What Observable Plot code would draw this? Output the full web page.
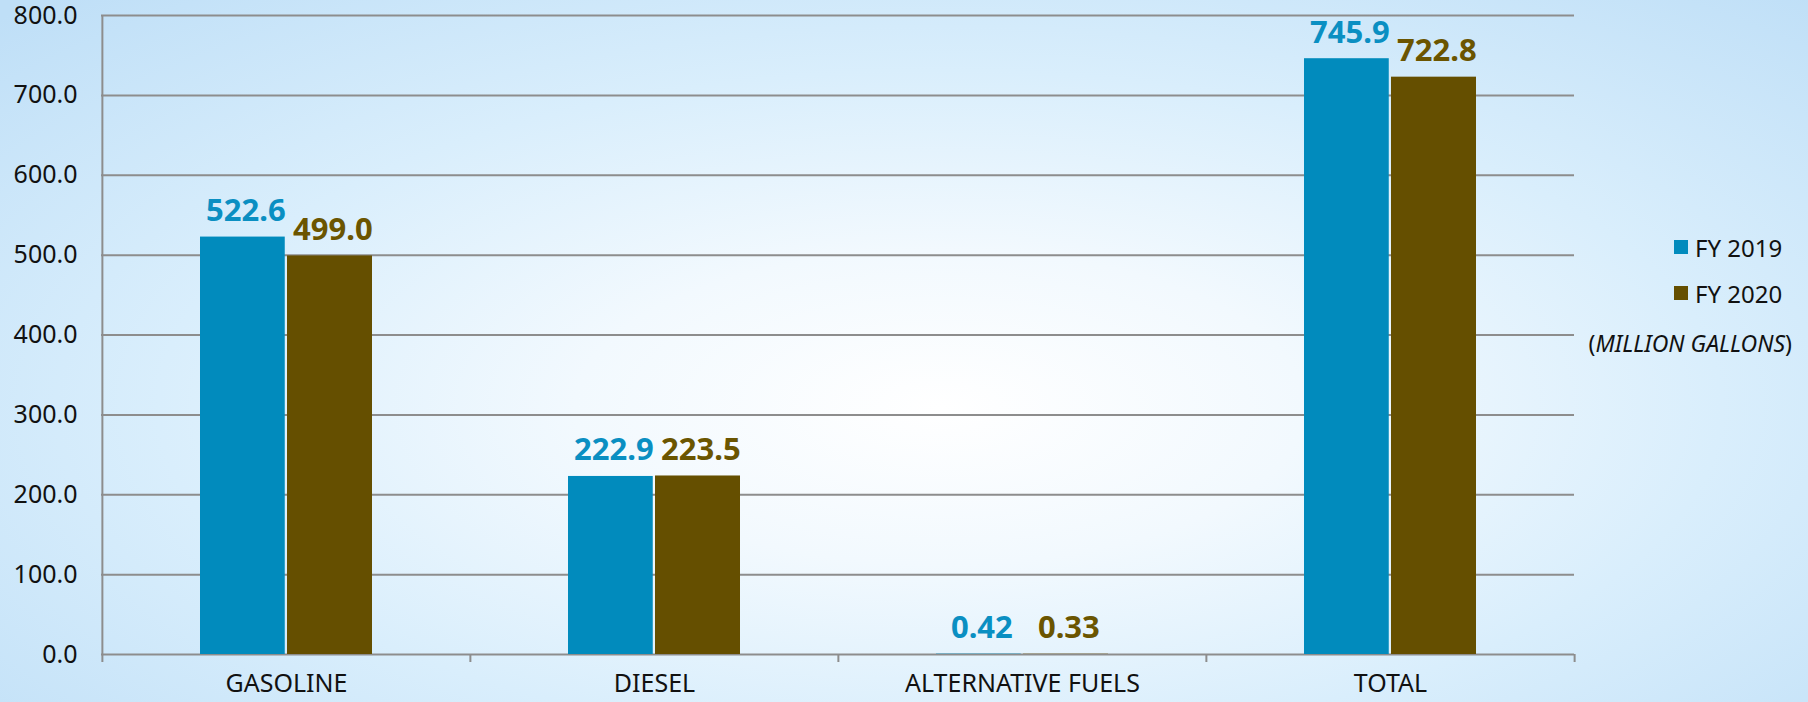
<!DOCTYPE html>
<html>
<head>
<meta charset="utf-8">
<script src="https://cdn.jsdelivr.net/npm/d3@7"></script>
<script src="https://cdn.jsdelivr.net/npm/@observablehq/plot@0.6"></script>
<style>
html,body{margin:0;padding:0;}
body{width:1808px;height:702px;overflow:hidden;position:relative;
  background: radial-gradient(ellipse 72% 80% at 52% 58%, #ffffff 0%, #f2f9fe 28%, #d9eefc 60%, #bfdff7 100%);
  font-family:"Noto Sans",sans-serif;}
#chart{position:absolute;left:0;top:0;}
#legend{position:absolute;left:0;top:0;width:1808px;height:702px;pointer-events:none;}
.item{position:absolute;left:1674px;display:flex;align-items:center;font-size:24px;color:#111;height:30px;}
.sw{width:14px;height:14px;margin-right:7px;}
.unit{position:absolute;right:16px;top:328px;font-size:23px;color:#111;height:30px;line-height:30px;}
</style>
</head>
<body>
<div id="chart"></div>
<div id="legend"></div>
<script>
const categories = ["GASOLINE", "DIESEL", "ALTERNATIVE FUELS", "TOTAL"];
const seriesNames = ["FY 2019", "FY 2020"];
const fy2019 = [522.6, 222.9, 0.42, 745.9];
const fy2020 = [499.0, 223.5, 0.33, 722.8];
const labels2019 = ["522.6", "222.9", "0.42", "745.9"];
const labels2020 = ["499.0", "223.5", "0.33", "722.8"];
const yTicks = [0, 100, 200, 300, 400, 500, 600, 700, 800];
const barColors = ["#018bbd", "#654f00"];
const labelColors = ["#0a8fc2", "#6b5500"];
const unitText = "MILLION GALLONS";

const W = 1808, H = 702;
const mL = 101, mR = 234, mT = 15, mB = 48;
const bw = (W - mL - mR) / categories.length;
const pad = 97, barW = 87;

const d19 = categories.map((c, i) => ({cat: c, v: fy2019[i], t: labels2019[i]}));
const d20 = categories.map((c, i) => ({cat: c, v: fy2020[i], t: labels2020[i]}));
const gridColor = "#8d8d8d";

const chart = Plot.plot({
  width: W, height: H,
  marginLeft: mL, marginRight: mR, marginTop: mT, marginBottom: mB,
  style: {fontFamily: "Noto Sans", background: "transparent", overflow: "visible", color: "#111"},
  x: {domain: categories, padding: 0, label: null},
  y: {domain: [0, 800], label: null},
  marks: [
    Plot.ruleY(yTicks, {stroke: gridColor, strokeWidth: 2}),
    Plot.ruleX([categories[0]], {x: d => d, y1: 0, y2: 800, dx: -bw / 2, stroke: gridColor, strokeWidth: 2}),
    Plot.ruleX(categories, {x: d => d, y1: 0, y2: 0, insetBottom: -8, dx: -bw / 2, stroke: gridColor, strokeWidth: 2}),
    Plot.ruleX([categories[categories.length - 1]], {x: d => d, y1: 0, y2: 0, insetBottom: -8, dx: bw / 2, stroke: gridColor, strokeWidth: 2}),
    Plot.barY(d19, {x: "cat", y: "v", fill: barColors[0], insetLeft: pad + 1, insetRight: bw - pad - barW + 1}),
    Plot.barY(d20, {x: "cat", y: "v", fill: barColors[1], insetLeft: pad + barW + 1, insetRight: pad + 1}),
    Plot.text(d19, {x: "cat", y: "v", text: "t", fill: labelColors[0], fontSize: 31, fontWeight: "bold",
      lineAnchor: "bottom", dy: -16, dx: pad + barW / 2 - bw / 2 + 3, style: "letter-spacing:1.5px"}),
    Plot.text(d20, {x: "cat", y: "v", text: "t", fill: labelColors[1], fontSize: 31, fontWeight: "bold",
      lineAnchor: "bottom", dy: -16, dx: pad + barW * 1.5 - bw / 2 + 3, style: "letter-spacing:1.5px"}),
    Plot.axisY({ticks: yTicks, tickFormat: d => d.toFixed(1), tickSize: 0, tickPadding: 24, fontSize: 25, label: null, fill: "#111"}),
    Plot.axisX({tickSize: 0, tickPadding: 20, fontSize: 25, label: null, fill: "#111"})
  ]
});
document.getElementById("chart").appendChild(chart);

const legend = document.getElementById("legend");
seriesNames.forEach((s, i) => {
  const it = document.createElement("div");
  it.className = "item";
  it.style.top = (232 + i * 46) + "px";
  const sw = document.createElement("span");
  sw.className = "sw";
  sw.style.background = barColors[i];
  const tx = document.createElement("span");
  tx.textContent = s;
  it.appendChild(sw); it.appendChild(tx);
  legend.appendChild(it);
});
const unit = document.createElement("div");
unit.className = "unit";
unit.innerHTML = "(<i>" + unitText + "</i>)";
legend.appendChild(unit);
</script>
</body>
</html>
